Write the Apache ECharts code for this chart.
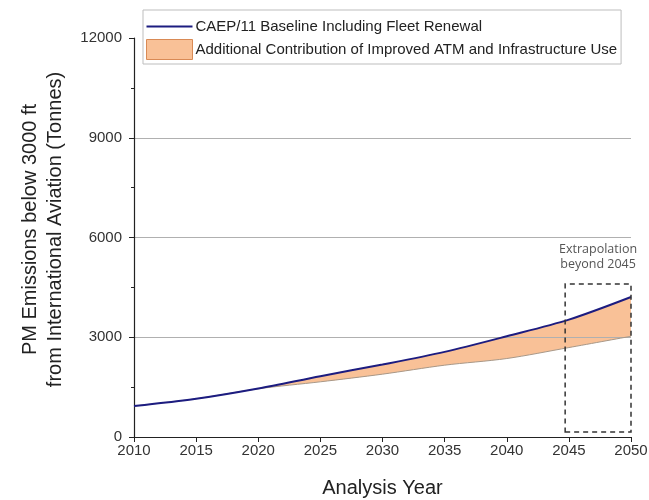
<!DOCTYPE html>
<html>
<head>
<meta charset="utf-8">
<script src="https://cdn.jsdelivr.net/npm/echarts@6/dist/echarts.min.js"></script>
<style>
  html, body { margin: 0; padding: 0; background: #fff; }
  #chart { width: 649px; height: 500px; }
</style>
</head>
<body>
<div id="chart"></div>
<script>
// Analysis years (5-year steps)
const years = [2010, 2015, 2020, 2025, 2030, 2035, 2040, 2045, 2050];
// CAEP/11 baseline including fleet renewal (tonnes)
const baseline = [930, 1150, 1460, 1830, 2180, 2560, 3030, 3530, 4210];
// Emissions with improved ATM and infrastructure use (tonnes)
const improved = [930, 1150, 1450, 1660, 1890, 2160, 2360, 2690, 3030];
// Extrapolated period box
const extrapYears = [2044.7, 2050];
const extrapRange = [150, 4600];

const nameBase = 'CAEP/11 Baseline Including Fleet Renewal';
const nameATM = 'Additional Contribution of Improved ATM and Infrastructure Use';

const baseData = years.map((y, i) => [y, baseline[i]]);
const lowerData = years.map((y, i) => [y, improved[i]]);

const font = "'Liberation Sans', Arial, sans-serif";
const orange = '#f9c197';
const navy = '#1c1c80';
const smooth = 0.3;

const chart = echarts.init(document.getElementById('chart'), null, { renderer: 'canvas' });
chart.setOption({
  animation: false,
  backgroundColor: '#fff',
  grid: { left: 134, right: 18, top: 38, bottom: 63, containLabel: false, outerBoundsMode: 'none' },
  legend: {
    orient: 'vertical',
    left: 143,
    top: 10,
    padding: [9, 4, 4, 3],
    itemGap: 5,
    itemWidth: 46,
    itemHeight: 20,
    borderColor: '#bdbdbd',
    borderWidth: 1,
    textStyle: { fontFamily: font, fontSize: 15, color: '#222', padding: [0, 0, 0, -2] },
    data: [
      { name: nameBase, icon: 'path://M0 0 H46 V2 H0 Z', itemStyle: { color: navy } },
      { name: nameATM, icon: 'rect', itemStyle: { color: orange, borderColor: '#d98a55', borderWidth: 1 } }
    ]
  },
  xAxis: {
    type: 'value',
    min: 2010,
    max: 2050,
    interval: 5,
    z: 2,
    name: 'Analysis Year',
    nameLocation: 'middle',
    nameGap: 41,
    nameTextStyle: { fontFamily: font, fontSize: 20, color: '#222' },
    axisLine: { onZero: false, lineStyle: { color: '#222', width: 1.2 } },
    axisTick: { length: 5, lineStyle: { color: '#222' } },
    axisLabel: { fontFamily: font, fontSize: 15, color: '#333', margin: 6,
      formatter: v => String(v) },
    splitLine: { show: false }
  },
  yAxis: {
    type: 'value',
    min: 0,
    max: 12000,
    interval: 3000,
    z: 2,
    name: 'PM Emissions below 3000 ft\nfrom International Aviation (Tonnes)',
    nameLocation: 'middle',
    nameGap: 66,
    nameTextStyle: { fontFamily: font, fontSize: 20, color: '#222', lineHeight: 25,
      padding: [0, 0, 0, 16] },
    axisLine: { show: true, lineStyle: { color: '#222', width: 1.2 } },
    axisTick: { show: true, length: 5, lineStyle: { color: '#222' } },
    minorTick: { show: true, splitNumber: 2, length: 3, lineStyle: { color: '#222' } },
    axisLabel: { fontFamily: font, fontSize: 15, color: '#333', margin: 12,
      formatter: v => String(v) },
    splitLine: {
      show: true,
      lineStyle: { color: '#b0b0b0', width: 1 },
      showMaxLine: false
    }
  },
  series: [
    {
      // orange band: filled under the baseline, then masked below the improved curve
      name: nameATM,
      type: 'line',
      data: baseData,
      smooth: smooth,
      symbol: 'none',
      itemStyle: { color: orange },
      lineStyle: { width: 0 },
      areaStyle: { color: orange, opacity: 1 },
      z: 1
    },
    {
      name: 'improvedMask',
      type: 'line',
      data: lowerData,
      smooth: smooth,
      symbol: 'none',
      lineStyle: { width: 0 },
      areaStyle: { color: '#ffffff', opacity: 1 },
      z: 1
    },
    {
      name: 'improvedLine',
      type: 'line',
      data: lowerData,
      smooth: smooth,
      symbol: 'none',
      lineStyle: { color: '#a89888', width: 1 },
      z: 3
    },
    {
      name: nameBase,
      type: 'line',
      data: baseData,
      smooth: smooth,
      symbol: 'none',
      clip: false,
      itemStyle: { color: navy },
      lineStyle: { color: navy, width: 2 },
      z: 4,
      markArea: {
        silent: true,
        z: 5,
        itemStyle: {
          color: 'rgba(0,0,0,0)',
          borderColor: '#333',
          borderWidth: 1.5,
          borderType: [5, 4]
        },
        label: {
          show: true,
          position: 'top',
          distance: 11,
          formatter: 'Extrapolation\nbeyond 2045',
          fontFamily: "'Open Sans', sans-serif",
          fontSize: 12.5,
          lineHeight: 15,
          color: '#555'
        },
        data: [[
          { xAxis: extrapYears[0], yAxis: extrapRange[0] },
          { xAxis: extrapYears[1], yAxis: extrapRange[1] }
        ]]
      }
    }
  ]
});
</script>
</body>
</html>
